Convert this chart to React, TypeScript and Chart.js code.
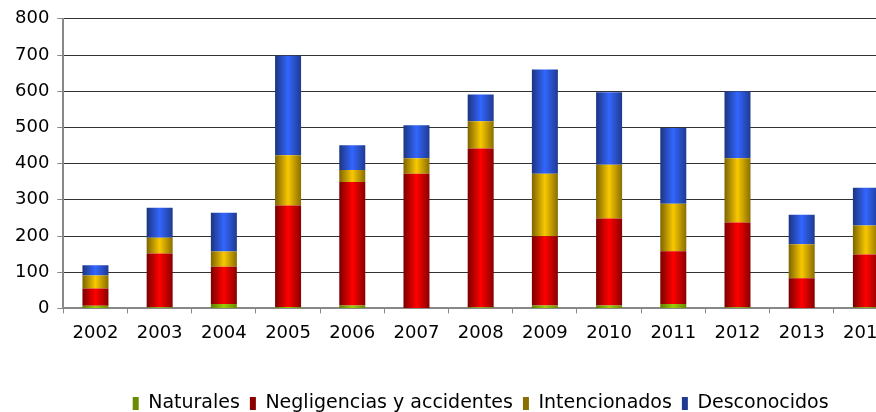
import React, { useEffect, useRef } from 'react';
import { Chart, registerables } from 'chart.js';
Chart.register(...registerables);

const years = ['2002', '2003', '2004', '2005', '2006', '2007', '2008', '2009', '2010', '2011', '2012', '2013', '2014'];
const naturales = [7, 3, 12, 4, 8, 1, 3, 8, 8, 12, 3, 0, 3];
const negligencias = [48, 149, 103, 280, 341, 371, 439, 191, 240, 146, 234, 83, 146];
const intencionados = [36, 43, 42, 139, 33, 43, 75, 173, 149, 131, 178, 94, 80];
const desconocidos = [28, 83, 107, 275, 69, 91, 74, 288, 200, 209, 184, 82, 104];
const seriesNames = ['Naturales', 'Negligencias y accidentes', 'Intencionados', 'Desconocidos'];
const yMin = 0;
const yMax = 800;
const yStep = 100;

const BAR_FRAC = 0.405;
const W = 910;
const H = 423;

const palettes = [
  ['#5f7f00', '#9acd0a', '#6a8a00'],
  ['#7a0000', '#ff0000', '#8a0000'],
  ['#7d6400', '#f8c800', '#8a6e00'],
  ['#1c3580', '#3366ff', '#1f3a90'],
];

const grad = (stops: string[]) => (ctx: any) => {
  const chart = ctx.chart;
  const xs = chart.scales && chart.scales.x;
  if (ctx.type !== 'data' || !xs || !chart.chartArea) return stops[1];
  const cx = xs.getPixelForValue(ctx.dataIndex);
  const w = (xs.width / years.length) * BAR_FRAC;
  const g = chart.ctx.createLinearGradient(cx - w / 2, 0, cx + w / 2, 0);
  g.addColorStop(0, stops[0]);
  g.addColorStop(0.5, stops[1]);
  g.addColorStop(1, stops[2]);
  return g;
};

export default function App() {
  const ref = useRef<HTMLCanvasElement | null>(null);
  useEffect(() => {
    if (!ref.current) return;
    const font = { family: 'DejaVu Sans', size: 18 };
    const legendFont = { family: 'DejaVu Sans', size: 19 };
    const chart = new Chart(ref.current, {
      type: 'bar',
      data: {
        labels: years,
        datasets: [naturales, negligencias, intencionados, desconocidos].map((d, i) => ({
          label: seriesNames[i],
          data: d,
          backgroundColor: grad(palettes[i]),
          borderWidth: 0,
          categoryPercentage: 1,
          barPercentage: BAR_FRAC,
        })),
      },
      options: {
        responsive: false,
        animation: false,
        devicePixelRatio: 1,
        layout: { padding: { left: 7, right: 12, top: 8, bottom: 0 } },
        plugins: {
          tooltip: { enabled: false },
          legend: {
            position: 'bottom',
            fullSize: false,
            labels: { boxWidth: 6, boxHeight: 13, font: legendFont, color: '#000', padding: 10 },
          },
        },
        scales: {
          x: {
            stacked: true,
            grid: { offset: true, drawOnChartArea: false, drawTicks: true, tickLength: 5, tickColor: '#888' },
            border: { color: '#888', width: 2 },
            ticks: { font, color: '#000', padding: 9, maxRotation: 0, autoSkip: false },
            afterFit: (scale: any) => { scale.height += 31; },
          },
          y: {
            stacked: true,
            min: yMin,
            max: yMax,
            grid: { color: '#333', lineWidth: 1, tickLength: 6, tickColor: '#888' },
            border: { color: '#888', width: 2 },
            ticks: { stepSize: yStep, font, color: '#000', padding: 8 },
          },
        },
      },
    });
    return () => chart.destroy();
  }, []);
  return (
    <div style={{ position: 'fixed', left: 0, top: 0, width: 876, height: 412, overflow: 'hidden', background: '#fff' }}>
      <canvas ref={ref} width={W} height={H} style={{ width: W, height: H, display: 'block' }} />
    </div>
  );
}
